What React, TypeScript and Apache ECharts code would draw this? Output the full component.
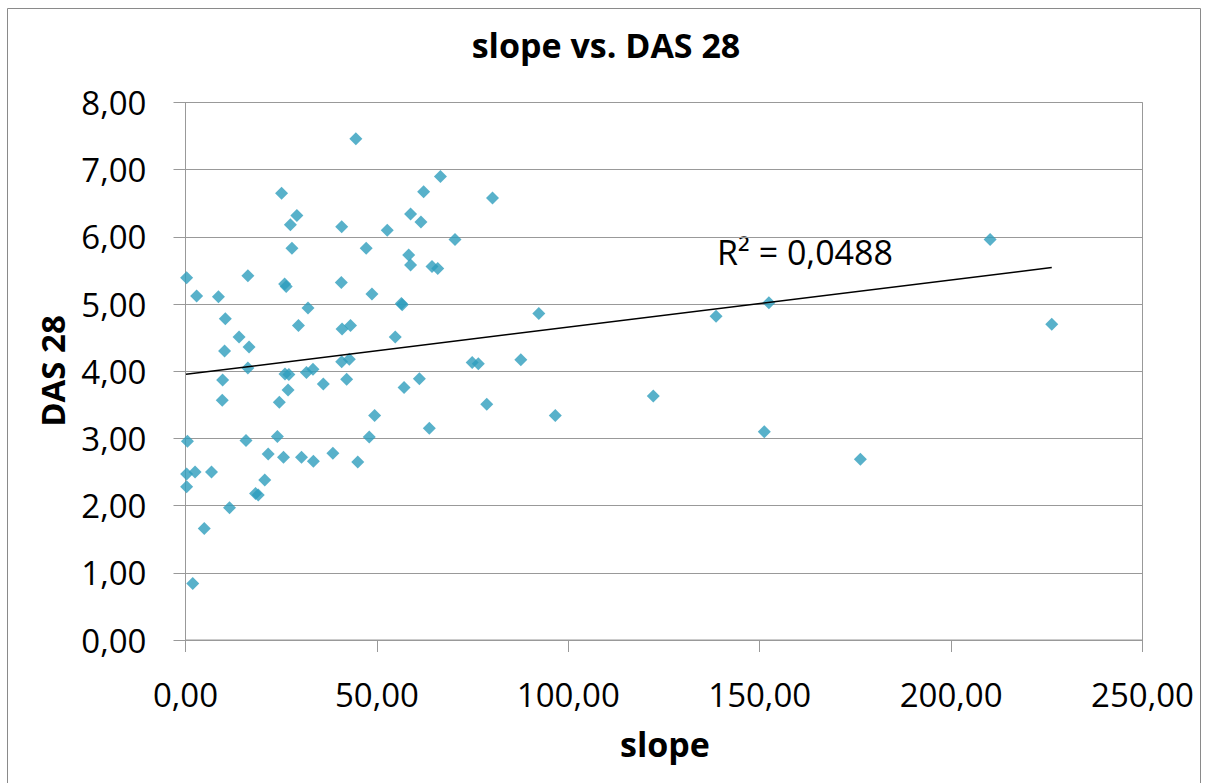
import React, { useEffect, useRef } from 'react';
import * as echarts from 'echarts';

// slope (x) values
const slope: number[] = [
  44.5, 25.1, 29.1, 27.4, 40.8, 27.8, 47.2, 0.3, 16.3, 25.9,
  26.3, 40.7, 2.9, 8.6, 48.7, 32.0, 10.4, 29.5, 40.9, 43.1,
  14.0, 16.6, 10.2, 16.3, 26.0, 27.0, 31.6, 33.3, 40.8, 42.8,
  9.7, 36.0, 42.1, 26.8, 9.6, 24.5, 0.5, 15.8, 24.0, 21.6,
  25.6, 30.3, 33.4, 38.5, 45.0, 48.0, 49.4, 0.3, 2.5, 6.8,
  0.3, 20.7, 18.3, 19.0, 11.5, 4.9, 1.9, 66.6, 62.2, 80.2,
  58.8, 61.5, 52.7, 70.4, 58.3, 58.8, 64.4, 65.9, 56.4, 56.6,
  92.3, 54.8, 74.9, 76.5, 87.6, 57.1, 61.1, 78.7, 96.6, 63.7,
  122.2, 138.6, 152.4, 151.2, 176.3, 210.2, 226.3,
];

// DAS 28 (y) values
const das28: number[] = [
  7.46, 6.65, 6.32, 6.18, 6.15, 5.83, 5.83, 5.39, 5.42, 5.30,
  5.26, 5.32, 5.12, 5.11, 5.15, 4.94, 4.78, 4.68, 4.63, 4.68,
  4.51, 4.36, 4.30, 4.05, 3.96, 3.95, 3.98, 4.03, 4.14, 4.18,
  3.87, 3.81, 3.88, 3.72, 3.57, 3.54, 2.96, 2.97, 3.03, 2.77,
  2.72, 2.72, 2.66, 2.78, 2.65, 3.02, 3.34, 2.47, 2.50, 2.50,
  2.28, 2.38, 2.18, 2.16, 1.97, 1.66, 0.84, 6.90, 6.67, 6.58,
  6.34, 6.22, 6.10, 5.96, 5.73, 5.58, 5.56, 5.53, 5.01, 4.99,
  4.86, 4.51, 4.13, 4.11, 4.17, 3.76, 3.89, 3.51, 3.34, 3.15,
  3.63, 4.82, 5.02, 3.10, 2.69, 5.96, 4.70,
];

// linear trendline end points, as drawn in the reference
const trendSlope: number[] = [0.13, 226.3];
const trendDas: number[] = [3.955, 5.544];

const titleText = 'slope vs. DAS 28';
const xAxisTitle = 'slope';
const yAxisTitle = 'DAS 28';
const r2Label = 'R² = 0,0488';

const FONT = '"Open Sans", "Noto Sans", sans-serif';
const fmt = (v: number) => v.toFixed(2).replace('.', ',');

export default function App() {
  const ref = useRef<HTMLDivElement>(null);

  useEffect(() => {
    document.body.style.margin = '0';
    const chart = echarts.init(ref.current as HTMLDivElement, null, { renderer: 'svg' });
    const points = slope.map((s, i) => [s, das28[i]]);
    const trend = trendSlope.map((s, i) => [s, trendDas[i]]);

    chart.setOption({
      animation: false,
      backgroundColor: '#ffffff',
      grid: {
        left: 185.5,
        right: 65.5,
        top: 102.5,
        bottom: 143,
        show: true,
        borderColor: '#999999',
        borderWidth: 1,
        containLabel: false,
      },
      xAxis: {
        type: 'value',
        min: 0,
        max: 250,
        interval: 50,
        axisLine: { show: true, lineStyle: { color: '#999999', width: 1 } },
        axisTick: { show: true, length: 12, inside: false, lineStyle: { color: '#999999' } },
        splitLine: { show: false },
        axisLabel: {
          formatter: fmt,
          fontFamily: FONT,
          fontSize: 33,
          color: '#000000',
          margin: 38,
        },
      },
      yAxis: {
        type: 'value',
        min: 0,
        max: 8,
        interval: 1,
        axisLine: { show: true, lineStyle: { color: '#999999', width: 1 } },
        axisTick: { show: true, length: 12, inside: false, lineStyle: { color: '#999999' } },
        splitLine: { show: true, lineStyle: { color: '#999999', width: 1 } },
        axisLabel: {
          formatter: fmt,
          fontFamily: FONT,
          fontSize: 33,
          color: '#000000',
          margin: 39,
        },
      },
      series: [
        {
          type: 'scatter',
          data: points,
          symbol: 'diamond',
          symbolSize: 13,
          itemStyle: { color: '#2E9DBD' },
          z: 3,
        },
        {
          type: 'line',
          data: trend,
          symbol: 'none',
          lineStyle: { color: '#000000', width: 1.5 },
          z: 4,
        },
      ],
      graphic: [
        {
          type: 'rect',
          shape: { x: 7.5, y: 8.5, width: 1193, height: 800 },
          style: { fill: 'none', stroke: '#8a8a8a', lineWidth: 1 },
          silent: true,
        },
        {
          type: 'text',
          x: 606,
          y: 45,
          style: {
            text: titleText,
            font: `bold 34px ${FONT}`,
            fill: '#000000',
            textAlign: 'center',
            textVerticalAlign: 'middle',
          },
        },
        {
          type: 'text',
          x: 665,
          y: 744,
          style: {
            text: xAxisTitle,
            font: `bold 34px ${FONT}`,
            fill: '#000000',
            textAlign: 'center',
            textVerticalAlign: 'middle',
          },
        },
        {
          type: 'text',
          x: 52,
          y: 371,
          rotation: Math.PI / 2,
          style: {
            text: yAxisTitle,
            font: `bold 33px ${FONT}`,
            fill: '#000000',
            textAlign: 'center',
            textVerticalAlign: 'middle',
          },
        },
        {
          type: 'text',
          x: 717,
          y: 252,
          style: {
            text: r2Label,
            font: `34px ${FONT}`,
            fill: '#000000',
            textAlign: 'left',
            textVerticalAlign: 'middle',
          },
        },
      ],
    });

    return () => chart.dispose();
  }, []);

  return <div ref={ref} style={{ width: 1208, height: 783, background: '#ffffff' }} />;
}
